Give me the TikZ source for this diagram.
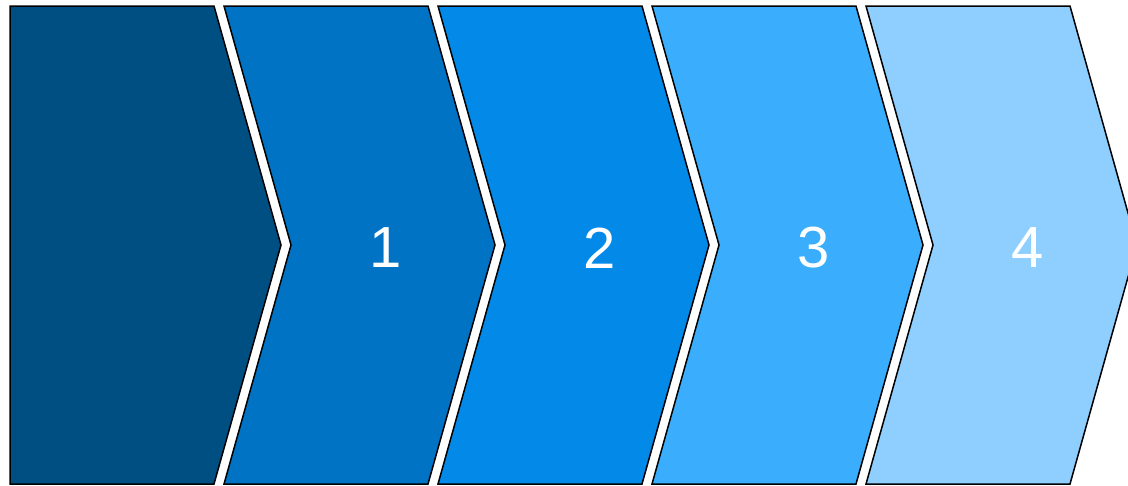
\documentclass[tikz,border=0pt]{standalone}
\usepackage{fontspec}
\setmainfont{Liberation Sans}
\definecolor{c0}{RGB}{0,79,130}
\definecolor{c1}{RGB}{0,115,196}
\definecolor{c2}{RGB}{3,137,232}
\definecolor{c3}{RGB}{58,174,252}
\definecolor{c4}{RGB}{142,207,255}
\tikzset{
  chev/.style={draw=black, line width=1.5pt, line join=miter},
  num/.style={text=white, font=\fontsize{58}{58}\selectfont, inner sep=0pt, anchor=center}
}
\begin{document}
\begin{tikzpicture}[x=1pt,y=-1pt]
\useasboundingbox (0,0) rectangle (1128,485);
\clip (0,0) rectangle (1128,485);
\fill[white] (0,0) rectangle (1128,485);
% first pentagon
\path[chev, fill=c0] (10,6) -- (214,6) -- (281,245) -- (214,484) -- (10,484) -- cycle;
% chevrons
\foreach \i/\c in {1/c1,2/c2,3/c3,4/c4}{
  \pgfmathsetmacro{\ox}{214*\i}
  \path[chev, fill=\c] (\ox+10,6) -- (\ox+214,6) -- (\ox+281,245) -- (\ox+214,484) -- (\ox+10,484) -- (\ox+77,245) -- cycle;
}
\node[num] (n1) at (386,248) {1};
\node[num] (n2) at (600,248) {2};
\node[num] (n3) at (814,248) {3};
\node[num] (n4) at (1028,248) {4};
\end{tikzpicture}
\end{document}
